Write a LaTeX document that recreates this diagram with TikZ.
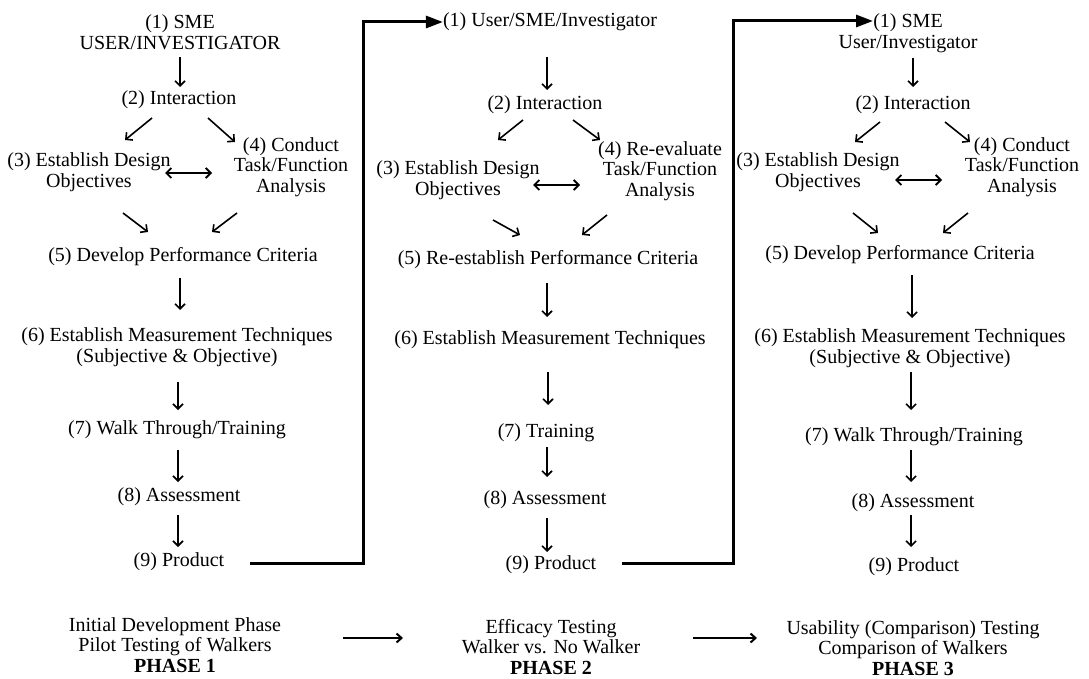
\documentclass[tikz,border=0pt]{standalone}
\usepackage{fontspec}
\setmainfont{Liberation Serif}
\usetikzlibrary{arrows.meta,calc}
\begin{document}
\begin{tikzpicture}[x=1pt,y=-1pt,
  lbl/.style={align=center,inner sep=0pt,font=\fontsize{20}{20.5}\selectfont},
  sarr/.style={line width=1.6pt,-{Straight Barb[length=5pt,width=10pt,line width=1.6pt]}},
  darr/.style={line width=1.8pt,{Straight Barb[length=5pt,width=10pt]}-{Straight Barb[length=5pt,width=10pt]}},
  big/.style={line width=3pt,-{Triangle[length=17pt,width=12pt]}},
  parr/.style={line width=2pt,-{Straight Barb[length=5pt,width=9pt]}}]
\useasboundingbox (0,0) rectangle (1089,679);
\fill[white] (0,0) rectangle (1089,679);
% ---------- Column 1 ----------
\node[lbl] (n11) at (180,32) {(1) SME\\USER/INVESTIGATOR};
\node[lbl] (n12) at (179,100) {(2) Interaction};
\node[lbl] (n13) at (89,172) {(3) Establish Design\\Objectives};
\node[lbl] (n14) at (291,167) {(4) Conduct\\Task/Function\\Analysis};
\node[lbl] (n15) at (183,257) {(5) Develop Performance Criteria};
\node[lbl] (n16) at (177,347) {(6) Establish Measurement Techniques\\(Subjective \& Objective)};
\node[lbl] (n17) at (177,430) {(7) Walk Through/Training};
\node[lbl] (n18) at (179,497) {(8) Assessment};
\node[lbl] (n19) at (179,562) {(9) Product};
\draw[sarr] ($(n11)+(0,25)$) -- ($(n12)+(1,-13)$);
\draw[sarr] ($(n12)+(-27,18)$) -- ($(n13)+(36,-32)$);
\draw[sarr] ($(n12)+(29,18)$) -- ($(n14)+(-56,-25)$);
\draw[darr] ($(n13)+(76,1)$) -- ($(n14)+(-79,6)$);
\draw[sarr] ($(n13)+(34,41)$) -- ($(n15)+(-35,-25)$);
\draw[sarr] ($(n14)+(-54,46)$) -- ($(n15)+(29,-25)$);
\draw[sarr] ($(n15)+(-3,21)$) -- ($(n16)+(3,-37)$);
\draw[sarr] ($(n16)+(1,35)$) -- ($(n17)+(1,-20)$);
\draw[sarr] ($(n17)+(1,20)$) -- ($(n18)+(-1,-15)$);
\draw[sarr] ($(n18)+(-1,18)$) -- ($(n19)+(-1,-15)$);
% ---------- Column 2 ----------
\node[lbl] (n21) at (550,22) {(1) User/SME/Investigator};
\node[lbl] (n22) at (545,105) {(2) Interaction};
\node[lbl] (n23) at (458,180) {(3) Establish Design\\Objectives};
\node[lbl] (n24) at (660,171) {(4) Re-evaluate\\Task/Function\\Analysis};
\node[lbl] (n25) at (548,260) {(5) Re-establish Performance Criteria};
\node[lbl] (n26) at (550,340) {(6) Establish Measurement Techniques};
\node[lbl] (n27) at (546,433) {(7) Training};
\node[lbl] (n28) at (545,500) {(8) Assessment};
\node[lbl] (n29) at (551,565) {(9) Product};
\draw[sarr] ($(n21)+(-3,35)$) -- ($(n22)+(2,-15)$);
\draw[sarr] ($(n22)+(-22,15)$) -- ($(n23)+(40,-40)$);
\draw[sarr] ($(n22)+(28,15)$) -- ($(n24)+(-60,-31)$);
\draw[darr] ($(n23)+(75,5)$) -- ($(n24)+(-80,14)$);
\draw[sarr] ($(n23)+(35,40)$) -- ($(n25)+(-28,-25)$);
\draw[sarr] ($(n24)+(-53,44)$) -- ($(n25)+(34,-25)$);
\draw[sarr] ($(n25)+(-1,23)$) -- ($(n26)+(-3,-23)$);
\draw[sarr] ($(n26)+(-2,32)$) -- ($(n27)+(2,-28)$);
\draw[sarr] ($(n27)+(1,14)$) -- ($(n28)+(2,-23)$);
\draw[sarr] ($(n28)+(2,18)$) -- ($(n29)+(-4,-13)$);
% ---------- Column 3 ----------
\node[lbl] (n31) at (908,33) {(1) SME\\User/Investigator};
\node[lbl] (n32) at (913,105) {(2) Interaction};
\node[lbl] (n33) at (818,172) {(3) Establish Design\\Objectives};
\node[lbl] (n34) at (1022,167) {(4) Conduct\\Task/Function\\Analysis};
\node[lbl] (n35) at (900,255) {(5) Develop Performance Criteria};
\node[lbl] (n36) at (910,348) {(6) Establish Measurement Techniques\\(Subjective \& Objective)};
\node[lbl] (n37) at (914,437) {(7) Walk Through/Training};
\node[lbl] (n38) at (913,503) {(8) Assessment};
\node[lbl] (n39) at (914,567) {(9) Product};
\draw[sarr] ($(n31)+(5,25)$) -- ($(n32)+(0,-18)$);
\draw[sarr] ($(n32)+(-33,17)$) -- ($(n33)+(37,-30)$);
\draw[sarr] ($(n32)+(32,17)$) -- ($(n34)+(-52,-25)$);
\draw[darr] ($(n33)+(77,8)$) -- ($(n34)+(-80,13)$);
\draw[sarr] ($(n33)+(35,41)$) -- ($(n35)+(-22,-22)$);
\draw[sarr] ($(n34)+(-54,46)$) -- ($(n35)+(43,-22)$);
\draw[sarr] ($(n35)+(12,20)$) -- ($(n36)+(2,-30)$);
\draw[sarr] ($(n36)+(1,24)$) -- ($(n37)+(-3,-27)$);
\draw[sarr] ($(n37)+(-3,13)$) -- ($(n38)+(-2,-21)$);
\draw[sarr] ($(n38)+(-2,12)$) -- ($(n39)+(-3,-20)$);
% ---------- Phase links ----------
\draw[big] ($(n19)+(71,1)$) -| ($(n21.west)+(-79,0)$) -- (n21.west);
\draw[big] ($(n29)+(71,-2)$) -| ($(n31)+(-175,-12)$) -- ($(n31)+(-35,-12)$);
% ---------- Phase labels ----------
\node[lbl] (p1) at (175,645) {Initial Development Phase\\Pilot Testing of Walkers\\\textbf{PHASE 1}};
\node[lbl] (p2) at (551,647) {Efficacy Testing\\Walker vs. No Walker\\\textbf{PHASE 2}};
\node[lbl] (p3) at (913,648) {Usability (Comparison) Testing\\Comparison of Walkers\\\textbf{PHASE 3}};
\draw[parr] ($(p1)+(168,-7)$) -- ($(p2)+(-148,-9)$);
\draw[parr] ($(p2)+(142,-9)$) -- ($(p3)+(-156,-10)$);
\end{tikzpicture}
\end{document}
